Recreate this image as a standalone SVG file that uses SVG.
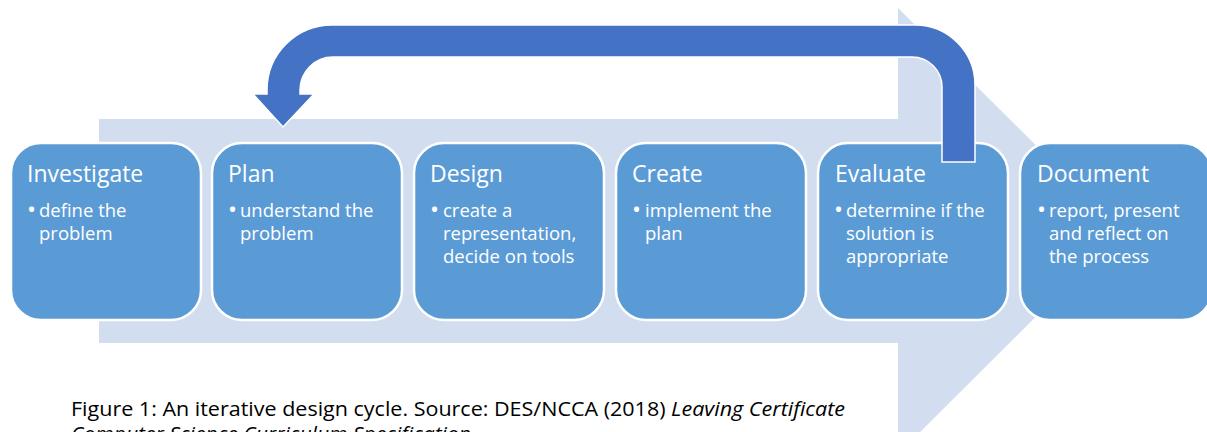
<svg xmlns="http://www.w3.org/2000/svg" width="1207" height="432" viewBox="0 0 1207 432">
<style>
.node rect{fill:#5B9BD5;stroke:#FFFFFF;stroke-width:2.5}
.title{font-family:"Open Sans","Noto Sans",sans-serif;font-size:23px;fill:#FFFFFF}
.item{font-family:"Open Sans","Noto Sans",sans-serif;font-size:18.5px;fill:#FFFFFF}
.bul{font-family:"Open Sans","Noto Sans",sans-serif;font-size:24px;fill:#FFFFFF}
.cap{font-family:"Open Sans","Noto Sans",sans-serif;font-size:20px;fill:#000000}
</style>
<rect width="1207" height="432" fill="#FFFFFF"/>
<polygon id="band" points="99,119 898,119 898,8 1122,231 898,454 898,343 99,343" fill="#D2DEEF"/>
<g id="node-investigate" class="node">
<rect x="11" y="143" width="190" height="177" rx="30"/>
<text class="title" x="27" y="182">Investigate</text>
<text class="bul" x="27" y="218">•</text>
<text class="item" x="39" y="217">define the</text>
<text class="item" x="39" y="240">problem</text>
</g>
<g id="node-plan" class="node">
<rect x="212" y="143" width="190" height="177" rx="30"/>
<text class="title" x="228" y="182">Plan</text>
<text class="bul" x="228" y="218">•</text>
<text class="item" x="240" y="217">understand the</text>
<text class="item" x="240" y="240">problem</text>
</g>
<g id="node-design" class="node">
<rect x="414" y="143" width="190" height="177" rx="30"/>
<text class="title" x="430" y="182">Design</text>
<text class="bul" x="430" y="218">•</text>
<text class="item" x="443" y="217">create a</text>
<text class="item" x="443" y="240">representation,</text>
<text class="item" x="443" y="263">decide on tools</text>
</g>
<g id="node-create" class="node">
<rect x="616" y="143" width="190" height="177" rx="30"/>
<text class="title" x="632" y="182">Create</text>
<text class="bul" x="632" y="218">•</text>
<text class="item" x="645" y="217">implement the</text>
<text class="item" x="645" y="240">plan</text>
</g>
<g id="node-evaluate" class="node">
<rect x="818" y="143" width="190" height="177" rx="30"/>
<text class="title" x="835" y="182">Evaluate</text>
<text class="bul" x="834" y="218">•</text>
<text class="item" x="846" y="217">determine if the</text>
<text class="item" x="846" y="240">solution is</text>
<text class="item" x="846" y="263">appropriate</text>
</g>
<g id="node-document" class="node">
<rect x="1020" y="143" width="192" height="177" rx="30"/>
<text class="title" x="1037" y="182">Document</text>
<text class="bul" x="1037" y="218">•</text>
<text class="item" x="1049" y="217">report, present</text>
<text class="item" x="1049" y="240">and reflect on</text>
<text class="item" x="1049" y="263">the process</text>
</g>
<g id="connectors">
<path d="M975,162 L975,85 A60,60 0 0 0 915,25 L332,25 A65,65 0 0 0 267,90 L267,94 L253,94 L283,127 L314,94 L300,94 L300,90 A33,33 0 0 1 333,57 L912,57 A30,30 0 0 1 942,87 L942,162 Z" fill="#4472C4" stroke="#FFFFFF" stroke-width="1.5"/>
</g>
<g id="caption">
<text class="cap" x="71" y="416" textLength="774" lengthAdjust="spacingAndGlyphs">Figure 1: An iterative design cycle. Source: DES/NCCA (2018) <tspan font-style="italic">Leaving Certificate</tspan></text>
<text class="cap" x="71" y="441" font-style="italic" textLength="400" lengthAdjust="spacingAndGlyphs">Computer Science Curriculum Specification</text>
</g>
</svg>
